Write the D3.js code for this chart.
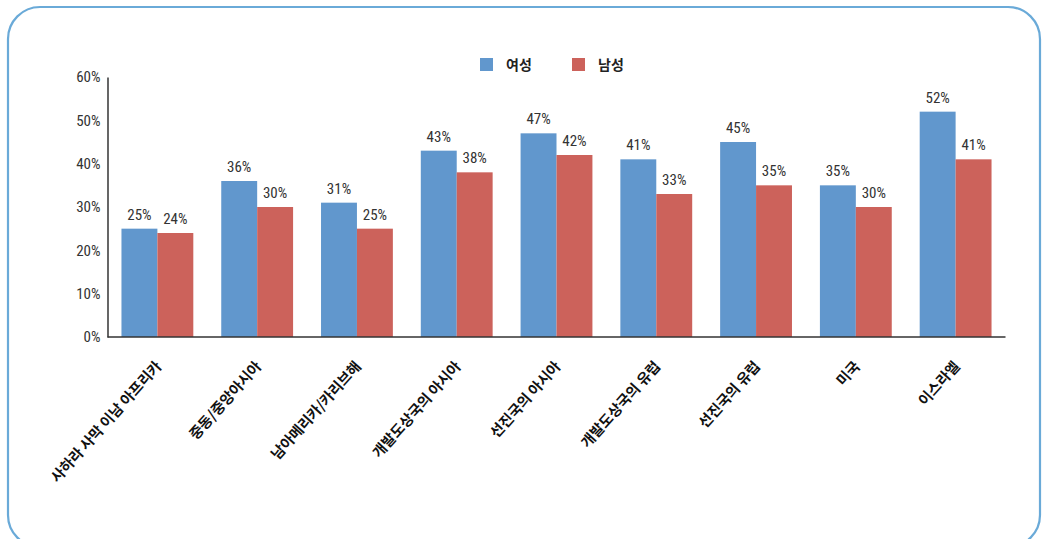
<!DOCTYPE html>
<html><head><meta charset="utf-8">
<script src="https://cdn.jsdelivr.net/npm/d3@7"></script>
<style>
html,body{margin:0;padding:0;background:#fff;}
svg{display:block;}
</style></head>
<body>
<svg id="chart" width="1042" height="539"></svg>
<script>
const categories = ["사하라 사막 이남 아프리카","중동/중앙아시아","남아메리카/카리브해","개발도상국의 아시아","선진국의 아시아","개발도상국의 유럽","선진국의 유럽","미국","이스라엘"];
const seriesNames = ["여성","남성"];
const female = [25,36,31,43,47,41,45,35,52];
const male = [24,30,25,38,42,33,35,30,41];
const yTicks = [0,10,20,30,40,50,60];
const colors = ["#6197cd","#cc625b"];

(function(){
const svg = d3.select("#chart");
// frame
svg.append("rect").attr("x",8).attr("y",7).attr("width",1032).attr("height",540)
  .attr("rx",32).attr("ry",32).attr("fill","none").attr("stroke","#6aaad8").attr("stroke-width",2.2);

const pL=107.5, pR=1005.5, pT=77, pB=337;
const x = d3.scaleBand().domain(categories).range([pL,pR]).paddingInner(0.28).paddingOuter(0.14);
const xs = d3.scaleBand().domain(seriesNames).range([0,x.bandwidth()]);
const y = d3.scaleLinear().domain([0,60]).range([pB,pT]);

const numFont = "'Liberation Sans Narrow','Roboto Condensed','DejaVu Sans Condensed',sans-serif";

// y axis
const yAxis = d3.axisLeft(y).tickValues(yTicks).tickFormat(d=>d+"%").tickSize(0).tickPadding(7);
const gy = svg.append("g").attr("transform",`translate(${pL},0)`).call(yAxis);
gy.select(".domain").attr("stroke","#000").attr("stroke-width",1.2);
gy.selectAll("text").attr("font-family",numFont).attr("font-size",15).attr("fill","#333");

const data = [female, male];
const groups = svg.append("g").selectAll("g").data(seriesNames).join("g").attr("fill",(d,i)=>colors[i]);
groups.selectAll("rect").data((s,i)=>data[i].map((v,j)=>({s,v,c:categories[j]}))).join("rect")
  .attr("x",d=>x(d.c)+xs(d.s)).attr("width",xs.bandwidth())
  .attr("y",d=>y(d.v)).attr("height",d=>y(0)-y(d.v));

// labels
const lg = svg.append("g");
seriesNames.forEach((s,i)=>{
  lg.selectAll(null).data(data[i].map((v,j)=>({v,c:categories[j]}))).join("text")
    .attr("x",d=>x(d.c)+xs(s)+xs.bandwidth()/2).attr("y",d=>y(d.v)-9)
    .attr("text-anchor","middle").attr("font-family",numFont).attr("font-size",15).attr("fill","#333")
    .text(d=>d.v+"%");
});

// x axis
const xAxis = d3.axisBottom(x).tickSize(0).tickFormat(d=>d);
const gx = svg.append("g").attr("transform",`translate(0,${pB})`).call(xAxis);
gx.select(".domain").attr("stroke","#333").attr("stroke-width",1.6).attr("d",`M${pL},0H${pR}`);
gx.selectAll(".tick text")
  .attr("font-family","'Noto Sans CJK KR',sans-serif").attr("font-size",14.5).attr("font-weight","bold").attr("fill","#111")
  .attr("text-anchor","end").attr("dy",0).attr("y",0)
  .attr("transform","translate(5,30) rotate(-48)");

// legend
const leg = svg.append("g");
const legX = [480,572];
seriesNames.forEach((s,i)=>{
  leg.append("rect").attr("x",legX[i]).attr("y",58).attr("width",13).attr("height",13).attr("fill",colors[i]);
  leg.append("text").attr("x",legX[i]+26).attr("y",70).attr("font-family","'Noto Sans CJK KR',sans-serif")
    .attr("font-size",14).attr("font-weight","bold").attr("fill","#222").text(s);
});
})();
</script>
</body></html>
